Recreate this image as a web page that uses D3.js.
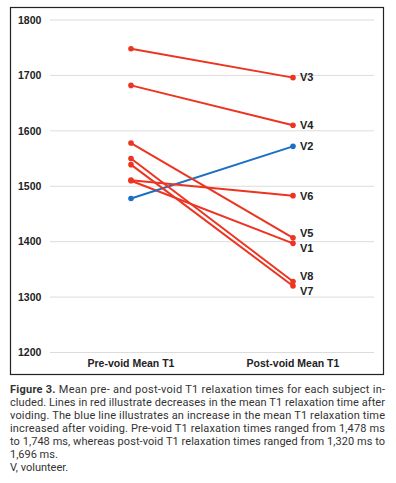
<!DOCTYPE html>
<html>
<head>
<meta charset="utf-8">
<script src="https://cdn.jsdelivr.net/npm/d3@7"></script>
<style>
  body { margin: 0; background: #fff; }
  svg { display: block; }
</style>
</head>
<body>
<div id="chart"></div>
<script>
// values
const volunteers = ['V1', 'V2', 'V3', 'V4', 'V5', 'V6', 'V7', 'V8'];
const preVoid = [1510, 1478, 1748, 1682, 1578, 1511, 1539, 1550];
const postVoid = [1397, 1572, 1696, 1610, 1407, 1483, 1320, 1328];
const phases = ['Pre-void Mean T1', 'Post-void Mean T1'];
const yTicks = [1200, 1300, 1400, 1500, 1600, 1700, 1800];

const captionLines = [
    ['Figure 3.', ' Mean pre- and post-void T1 relaxation times for each subject in-'],
    ['', 'cluded. Lines in red illustrate decreases in the mean T1 relaxation time after'],
    ['', 'voiding. The blue line illustrates an increase in the mean T1 relaxation time'],
    ['', 'increased after voiding. Pre-void T1 relaxation times ranged from 1,478 ms'],
    ['', 'to 1,748 ms, whereas post-void T1 relaxation times ranged from 1,320 ms to'],
    ['', '1,696 ms.'],
    ['', 'V, volunteer.']
];

const red = '#ec3420';
const blue = '#1c6fc4';

const width = 396, height = 483;
const svg = d3.select('#chart').append('svg')
    .attr('width', width)
    .attr('height', height);

// frame
svg.append('rect')
    .attr('x', 10.5).attr('y', 7.5)
    .attr('width', 373).attr('height', 367)
    .attr('fill', 'none')
    .attr('stroke', '#222')
    .attr('stroke-width', 1.2);

const x = d3.scalePoint().domain(phases).range([131, 293]);
const y = d3.scaleLinear().domain([1200, 1800]).range([352.5, 20]);

// grid + tick labels
const grid = svg.append('g');
grid.selectAll('line')
    .data(yTicks)
    .enter().append('line')
    .attr('x1', 50).attr('x2', 374)
    .attr('y1', d => y(d)).attr('y2', d => y(d))
    .attr('stroke', '#dcdcdc')
    .attr('stroke-width', 1);

grid.selectAll('text')
    .data(yTicks)
    .enter().append('text')
    .attr('x', 18)
    .attr('y', d => y(d))
    .attr('dy', '0.35em')
    .attr('font-family', 'Liberation Sans, Arial, sans-serif')
    .attr('font-weight', 'bold')
    .attr('font-size', 10.5)
    .attr('fill', '#222')
    .text(d => d);

// category labels
svg.append('g').selectAll('text')
    .data(phases)
    .enter().append('text')
    .attr('x', d => x(d))
    .attr('y', 363)
    .attr('dy', '0.35em')
    .attr('text-anchor', 'middle')
    .attr('font-family', 'Liberation Sans, Arial, sans-serif')
    .attr('font-weight', 'bold')
    .attr('font-size', 10.5)
    .attr('fill', '#222')
    .text(d => d);

const rows = volunteers.map((v, i) => ({ name: v, pre: preVoid[i], post: postVoid[i] }));
const colorOf = d => d.post > d.pre ? blue : red;

const lines = svg.append('g');
const slope = lines.selectAll('g')
    .data(rows)
    .enter().append('g');

slope.append('line')
    .attr('x1', x(phases[0])).attr('y1', d => y(d.pre))
    .attr('x2', x(phases[1])).attr('y2', d => y(d.post))
    .attr('stroke', colorOf)
    .attr('stroke-width', 2);

slope.append('circle')
    .attr('cx', x(phases[0])).attr('cy', d => y(d.pre))
    .attr('r', 2.8).attr('fill', colorOf);

slope.append('circle')
    .attr('cx', x(phases[1])).attr('cy', d => y(d.post))
    .attr('r', 2.8).attr('fill', colorOf);

// labels at the right end, nudged apart where they would collide
const labels = rows.map(d => ({ name: d.name, y: y(d.post) }))
    .sort((a, b) => a.y - b.y);
const gap = 15;
for (let k = 0; k < 10; k++) {
    for (let i = 1; i < labels.length; i++) {
        const a = labels[i - 1], b = labels[i];
        const over = gap - (b.y - a.y);
        if (over > 0) { a.y -= over / 2; b.y += over / 2; }
    }
}

svg.append('g').selectAll('text')
    .data(labels)
    .enter().append('text')
    .attr('x', 300)
    .attr('y', d => d.y)
    .attr('dy', '0.35em')
    .attr('font-family', 'Liberation Sans, Arial, sans-serif')
    .attr('font-weight', 'bold')
    .attr('font-size', 11)
    .attr('fill', '#222')
    .text(d => d.name);

// caption, justified by stretching each full line to the frame width
const cap = svg.append('g');
captionLines.forEach((ln, i) => {
    const t = cap.append('text')
        .attr('x', 10)
        .attr('y', 393 + i * 13)
        .attr('font-family', 'Roboto, sans-serif')
        .attr('font-size', 11)
        .attr('fill', '#333');
    if (i < 5) t.attr('textLength', 375).attr('lengthAdjust', 'spacing');
    if (ln[0]) t.append('tspan').attr('font-weight', 'bold').text(ln[0]);
    t.append('tspan').text(ln[1]);
});
</script>
</body>
</html>
